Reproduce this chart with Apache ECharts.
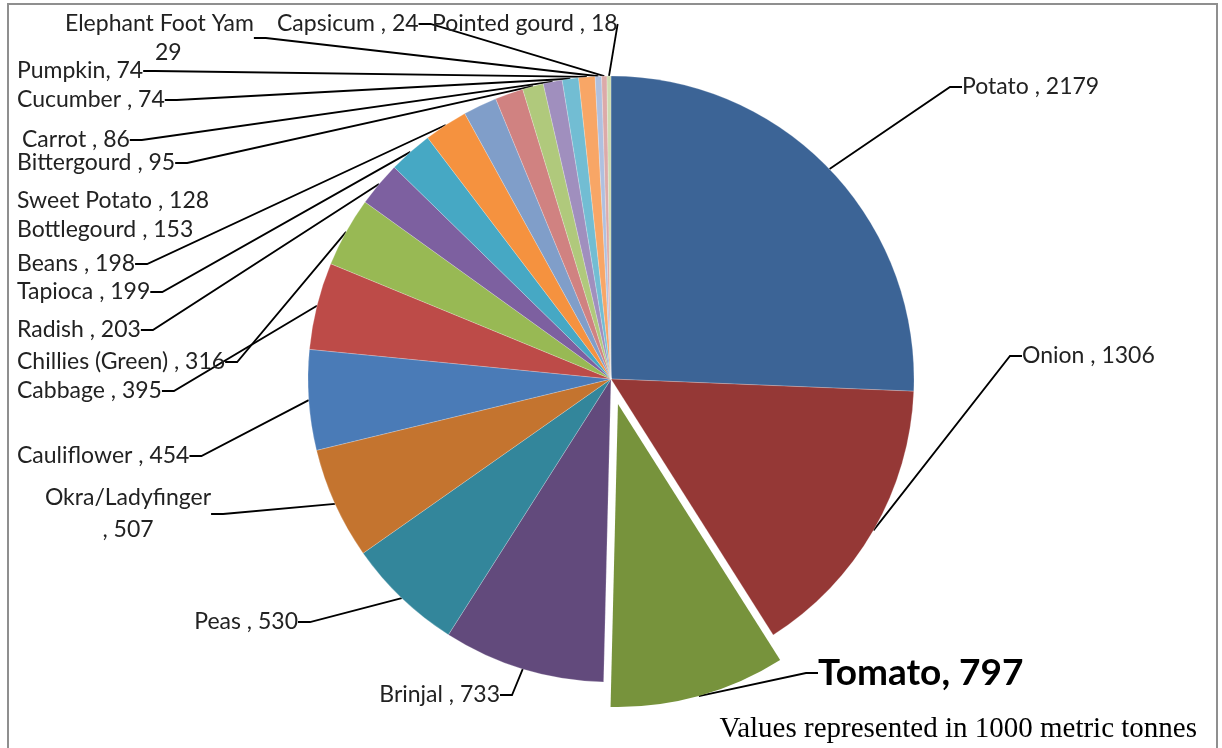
<!DOCTYPE html>
<html>
<head>
<meta charset="utf-8">
<title>Vegetable production</title>
<script src="https://cdn.jsdelivr.net/npm/echarts@6/dist/echarts.min.js"></script>
<style>
  html, body { margin: 0; padding: 0; background: #ffffff; }
  #chart { width: 1222px; height: 748px; }
</style>
</head>
<body>
<div id="chart"></div>
<script>
// Production per crop, in 1000 metric tonnes (clockwise from 12 o'clock)
const categories = [
  'Potato', 'Onion', 'Tomato', 'Brinjal', 'Peas', 'Okra/Ladyfinger',
  'Cauliflower', 'Cabbage', 'Chillies (Green)', 'Radish', 'Tapioca', 'Beans',
  'Bottlegourd', 'Sweet Potato', 'Bittergourd', 'Carrot', 'Cucumber',
  'Pumpkin', 'Elephant Foot Yam', 'Capsicum', 'Pointed gourd'
];
const production = [
  2179, 1306, 797, 733, 530, 507,
  454, 395, 316, 203, 199, 198,
  153, 128, 95, 86, 74,
  74, 29, 24, 18
];
const sliceColors = [
  '#3c6496', '#953836', '#77933c', '#624a7c', '#33869b', '#c4742f',
  '#4a7bb7', '#bd4b48', '#98b954', '#7d60a0', '#46a8c4', '#f5923f',
  '#809ec9', '#d08281', '#b0c97c', '#a08fbe', '#72bdd3',
  '#f8a666', '#afc0df', '#dcaaa9', '#cddbb0'
];
const highlighted = 'Tomato';
const withoutLeader = ['Bottlegourd', 'Sweet Potato'];
const tightComma = ['Pumpkin', 'Tomato'];
const footnote = 'Values represented in 1000 metric tonnes';

const PIE_CENTER = [611, 379];
const PIE_RADIUS = 303;
const PULL_OUT = 26;

// Where each label sits: [x, y, horizontal alignment]
const labelSpots = {
  'Potato': [962, 87, 'left'],
  'Onion': [1022, 356, 'left'],
  'Tomato': [818, 673, 'left'],
  'Brinjal': [500, 695, 'right'],
  'Peas': [298, 622, 'right'],
  'Okra/Ladyfinger': [128, 514, 'center'],
  'Cauliflower': [17, 456, 'left'],
  'Cabbage': [17, 391, 'left'],
  'Chillies (Green)': [17, 362, 'left'],
  'Radish': [17, 330, 'left'],
  'Tapioca': [17, 292, 'left'],
  'Beans': [17, 264, 'left'],
  'Bottlegourd': [17, 230, 'left'],
  'Sweet Potato': [17, 201, 'left'],
  'Bittergourd': [17, 163, 'left'],
  'Carrot': [22, 140, 'left'],
  'Cucumber': [17, 100, 'left'],
  'Pumpkin': [17, 71, 'left'],
  'Elephant Foot Yam': [65, 38, 'left'],
  'Capsicum': [277, 24, 'left'],
  'Pointed gourd': [432, 24, 'left']
};

const FONT = 'Lato, "Open Sans", sans-serif';
const TEXT = '#222222';

const total = production.reduce((a, b) => a + b, 0);
const pulledIndex = categories.indexOf(highlighted);

// The pulled-out slice is drawn by a second pie whose centre is moved
// outward along the slice's middle angle.
function pullOffset(index) {
  let before = 0;
  for (let i = 0; i < index; i++) before += production[i];
  const mid = ((before + production[index] / 2) / total) * 2 * Math.PI;
  return [PULL_OUT * Math.sin(mid), -PULL_OUT * Math.cos(mid)];
}
const offset = pullOffset(pulledIndex);

function labelText(p) {
  if (p.name === 'Elephant Foot Yam') {
    return '{n|' + p.name + '}\n{v|' + p.value + '}';
  }
  if (p.name === 'Okra/Ladyfinger') {
    return p.name + '\n, ' + p.value;
  }
  const sep = tightComma.includes(p.name) ? ', ' : ' , ';
  return p.name + sep + p.value;
}

const hidden = { show: false };

// Main pie: every slice except the pulled-out one
const mainData = categories.map((name, i) => {
  const item = { name: name, value: production[i], itemStyle: { color: sliceColors[i] } };
  if (i === pulledIndex) {
    item.itemStyle = { color: 'rgba(0,0,0,0)', borderWidth: 0 };
    item.label = hidden;
    item.labelLine = hidden;
  }
  if (name === 'Okra/Ladyfinger') item.label = { lineHeight: 32 };
  if (withoutLeader.includes(name)) item.labelLine = hidden;
  return item;
});

// Offset pie: only the pulled-out slice is visible
const pulledData = categories.map((name, i) => {
  if (i === pulledIndex) {
    return {
      name: name, value: production[i],
      itemStyle: { color: sliceColors[i] },
      label: { show: true, fontSize: 37, fontWeight: 'bold', color: '#000000' },
      labelLine: { show: true }
    };
  }
  return {
    name: name, value: production[i],
    itemStyle: { color: 'rgba(0,0,0,0)', borderWidth: 0 },
    label: hidden, labelLine: hidden
  };
});

const commonLabel = {
  position: 'outside',
  formatter: labelText,
  fontFamily: FONT,
  fontSize: 23,
  color: TEXT,
  rich: {
    n: { fontFamily: FONT, fontSize: 23, color: TEXT, lineHeight: 29 },
    v: { fontFamily: FONT, fontSize: 23, color: TEXT, lineHeight: 29, padding: [0, 0, 0, 90] }
  }
};
const commonLine = {
  length: 10,
  length2: 12,
  lineStyle: { color: '#000000', width: 1.8 }
};
function placeLabel(params) {
  const spot = labelSpots[categories[params.dataIndex]];
  return { x: spot[0], y: spot[1], align: spot[2], verticalAlign: 'middle' };
}

const chart = echarts.init(document.getElementById('chart'), null, { renderer: 'canvas' });

chart.setOption({
  animation: false,
  backgroundColor: '#ffffff',
  graphic: [
    {
      type: 'rect',
      shape: { x: 8, y: 4, width: 1209, height: 800 },
      style: { fill: 'none', stroke: '#8f8f8f', lineWidth: 2 },
      silent: true
    },
    {
      type: 'text',
      x: 1197,
      y: 729,
      style: {
        text: footnote,
        font: '29px "Liberation Serif", "Times New Roman", serif',
        fill: '#000000',
        textAlign: 'right',
        textVerticalAlign: 'middle',
        align: 'right',
        verticalAlign: 'middle'
      },
      silent: true
    }
  ],
  series: [
    {
      type: 'pie',
      center: PIE_CENTER,
      radius: PIE_RADIUS,
      startAngle: 90,
      clockwise: true,
      avoidLabelOverlap: false,
      itemStyle: { borderColor: 'rgba(255,255,255,0.35)', borderWidth: 0.6 },
      emphasis: { disabled: true },
      label: Object.assign({ show: true }, commonLabel),
      labelLine: Object.assign({ show: true }, commonLine),
      labelLayout: placeLabel,
      data: mainData
    },
    {
      type: 'pie',
      center: [PIE_CENTER[0] + offset[0], PIE_CENTER[1] + offset[1]],
      radius: PIE_RADIUS,
      startAngle: 90,
      clockwise: true,
      avoidLabelOverlap: false,
      silent: true,
      emphasis: { disabled: true },
      label: Object.assign({ show: false }, commonLabel),
      labelLine: Object.assign({ show: false }, commonLine),
      labelLayout: placeLabel,
      data: pulledData
    }
  ]
});
</script>
</body>
</html>
